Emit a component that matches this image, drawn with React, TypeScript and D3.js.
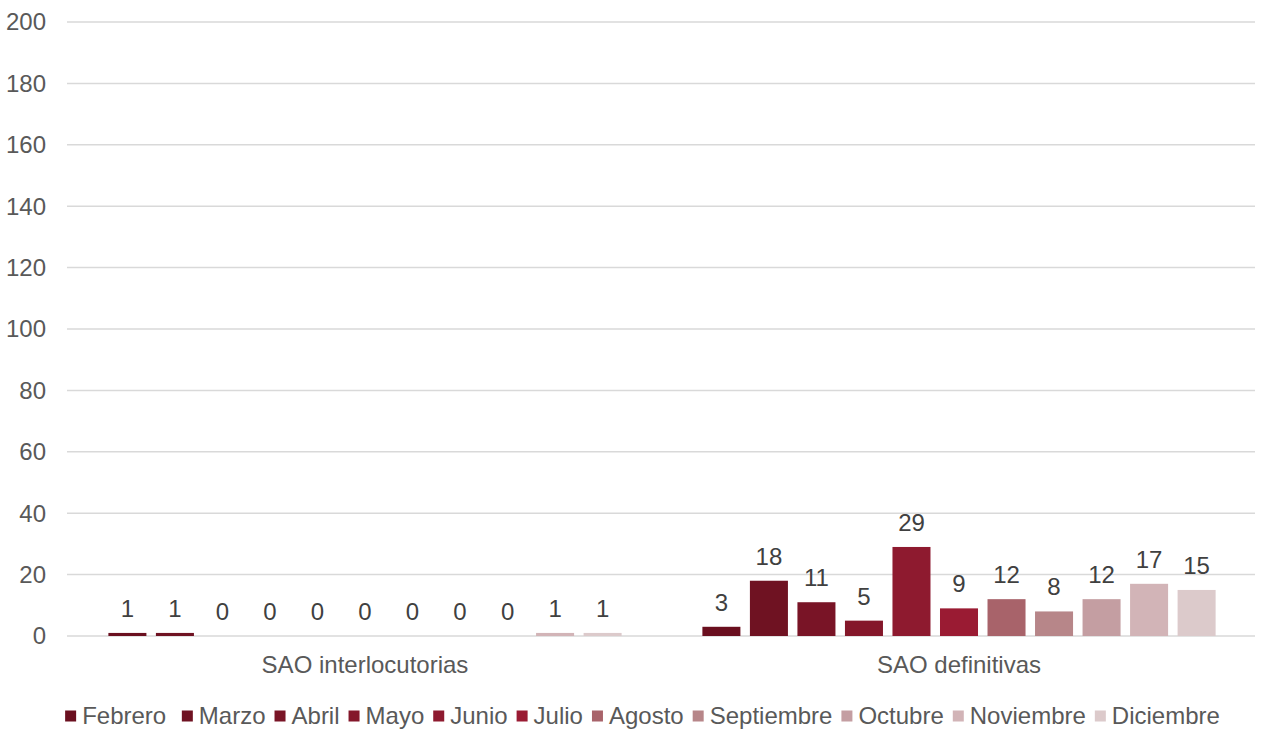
import React, { useEffect, useRef } from "react";
import * as d3 from "d3";

const categories = ["SAO interlocutorias", "SAO definitivas"];
const seriesNames = ["Febrero ", "Marzo", "Abril", "Mayo", "Junio", "Julio", "Agosto", "Septiembre", "Octubre", "Noviembre", "Diciembre"];
const interlocutorias = [1, 1, 0, 0, 0, 0, 0, 0, 0, 1, 1];
const definitivas = [3, 18, 11, 5, 29, 9, 12, 8, 12, 17, 15];
const seriesColors = ["#6a0f1f", "#6f1222", "#791426", "#84172a", "#8e1a2f", "#9a1b33", "#a8636a", "#b78689", "#c49ea2", "#d2b4b7", "#dccacb"];
const yTicks = [0, 20, 40, 60, 80, 100, 120, 140, 160, 180, 200];

const W = 1268;
const H = 729;
const FONT = "'Liberation Sans', Arial, sans-serif";
const FS = 24;

export default function App() {
  const ref = useRef<SVGSVGElement | null>(null);

  useEffect(() => {
    const svg = d3.select(ref.current);
    svg.selectAll("*").remove();

    const left = 68, right = 1256, top = 22, bottom = 636;
    const x0 = d3.scaleBand<string>().domain(categories).range([left, right]);
    const x1 = d3.scaleBand<string>().domain(seriesNames).range([0, x0.bandwidth()]).paddingInner(0.2).paddingOuter(0.85);
    const y = d3.scaleLinear().domain([0, 200]).range([bottom, top]);

    svg.append("g").selectAll("line").data(yTicks).join("line")
      .attr("x1", 67).attr("x2", 1255)
      .attr("y1", d => y(d)).attr("y2", d => y(d))
      .attr("stroke", "#d9d9d9").attr("stroke-width", 1.5);

    svg.append("g").selectAll("text").data(yTicks).join("text")
      .attr("x", 46).attr("y", d => y(d)).attr("dy", "0.35em")
      .attr("text-anchor", "end").attr("font-family", FONT).attr("font-size", FS)
      .attr("fill", "#595959").text(d => String(d));

    const values = [interlocutorias, definitivas];
    const data = categories.flatMap((c, ci) => seriesNames.map((s, si) => ({ c, s, si, v: values[ci][si] })));

    const gBars = svg.append("g");
    gBars.selectAll("rect").data(data).join("rect")
      .attr("x", d => (x0(d.c) as number) + (x1(d.s) as number))
      .attr("y", d => y(d.v))
      .attr("width", x1.bandwidth())
      .attr("height", d => y(0) - y(d.v))
      .attr("fill", d => seriesColors[d.si]);

    gBars.selectAll("text").data(data).join("text")
      .attr("x", d => (x0(d.c) as number) + (x1(d.s) as number) + x1.bandwidth() / 2)
      .attr("y", d => y(d.v) - 16)
      .attr("text-anchor", "middle").attr("font-family", FONT).attr("font-size", FS)
      .attr("fill", "#404040").text(d => String(d.v));

    svg.append("g").selectAll("text").data(categories).join("text")
      .attr("x", d => (x0(d) as number) + x0.bandwidth() / 2)
      .attr("y", 665).attr("dy", "0.35em")
      .attr("text-anchor", "middle").attr("font-family", FONT).attr("font-size", FS)
      .attr("fill", "#595959").text(d => d);

    const lg = svg.append("g");
    const items = lg.selectAll("g").data(seriesNames).join("g");
    items.append("rect").attr("width", 11).attr("height", 11).attr("y", -5.5)
      .attr("fill", (d, i) => seriesColors[i]);
    const texts = items.append("text").attr("x", 17).attr("dy", "0.35em")
      .attr("font-family", FONT).attr("font-size", FS).attr("fill", "#595959")
      .attr("xml:space", "preserve").style("white-space", "pre").text(d => d);
    const widths: number[] = [];
    texts.each(function () { widths.push((this as SVGTextElement).getComputedTextLength()); });
    const gap = 9;
    const total = widths.reduce((a, w) => a + 17 + w, 0) + gap * (widths.length - 1);
    let cx = (65 + 1220) / 2 - total / 2;
    items.each(function (d, i) {
      d3.select(this).attr("transform", `translate(${cx},716)`);
      cx += 17 + widths[i] + gap;
    });
  }, []);

  return <svg ref={ref} width={W} height={H} style={{ display: "block", position: "absolute", left: 0, top: 0 }} />;
}
